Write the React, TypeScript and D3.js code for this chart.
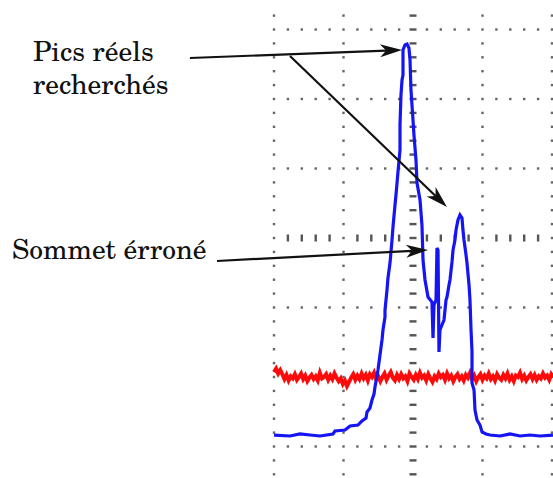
import React from "react";
import * as d3 from "d3";

// Oscilloscope trace data, in divisions x10 (time axis t, amplitude v)
const blueT = [
  -20.0, -17.7, -16.26, -14.82, -13.38, -11.51, -11.22, -9.78, -9.06, -7.91, -7.34, -6.76, -6.62, -6.19, -5.9,
  -5.61, -5.47, -5.18, -5.04, -4.75, -4.46, -4.32, -4.03, -4.03, -3.74, -3.6, -3.31, -3.02, -2.88, -2.59, -2.45,
  -2.16, -1.87, -1.87, -1.73, -1.58, -1.44, -1.44, -1.15, -0.86, -0.58, -0.43, -0.29, 0.0, 0.14, 0.43, 0.58,
  1.01, 1.29, 1.44, 1.73, 2.16, 2.73, 2.88, 3.02, 3.31, 3.45, 3.6, 3.74, 3.88, 4.17, 4.46, 4.75, 4.89, 5.18,
  5.32, 5.61, 5.76, 6.04, 6.19, 6.47, 6.76, 7.05, 7.19, 7.34, 7.63, 7.77, 8.06, 8.2, 8.35, 8.49, 8.49, 8.78,
  8.92, 9.21, 9.64, 9.93, 10.5, 11.08, 12.52, 13.96, 15.4, 16.83, 18.27, 20.14,
];
const blueV = [
  -28.35, -28.49, -28.2, -28.35, -28.49, -28.2, -27.77, -27.63, -27.05, -26.91, -26.33, -25.9, -25.04, -24.46,
  -23.31, -22.45, -21.44, -19.86, -18.99, -16.83, -14.68, -13.24, -11.37, -10.36, -7.48, -5.76, -3.6, -0.29,
  1.58, 4.75, 6.19, 9.5, 12.66, 16.26, 20.58, 22.73, 23.45, 27.05, 27.77, 27.91, 27.34, 25.61, 21.29, 16.98,
  14.82, 11.22, 7.91, 5.47, 1.87, -3.17, -6.04, -8.49, -9.21, -14.39, -9.64, -8.92, -1.44, -1.73, -16.4, -13.24,
  -12.52, -11.8, -8.92, -8.49, -6.76, -6.04, -3.45, -1.73, -0.29, 1.15, 2.59, 3.31, 2.88, 1.15, -0.29, -2.45,
  -3.6, -6.76, -8.92, -13.24, -16.4, -20.86, -21.87, -24.75, -26.19, -26.91, -27.91, -28.2, -28.35, -28.49,
  -28.2, -28.49, -28.35, -28.49, -28.35,
];
// red reference trace, sampled every 0.3 unit from t = -20
const redV = [
  -19.3, -18.8, -19.5, -19.0, -19.6, -20.3, -19.7, -20.5, -19.9, -20.2,
  -19.6, -20.4, -20.0, -19.5, -20.3, -19.8, -20.6, -20.1, -19.7, -20.3,
  -19.9, -20.5, -19.4, -20.2, -20.0, -19.6, -20.4, -19.8, -20.3, -19.5,
  -20.1, -20.6, -20.2, -21.0, -20.5, -21.3, -20.7, -20.1, -19.6, -20.4,
  -19.8, -20.3, -19.5, -20.2, -19.7, -20.5, -19.6, -20.0, -19.4, -20.3,
  -19.9, -20.6, -20.0, -19.5, -20.4, -19.8, -19.3, -20.1, -20.5, -19.7,
  -20.3, -19.6, -20.2, -19.9, -20.6, -19.5, -20.0, -20.4, -19.7, -20.3,
  -19.4, -20.1, -19.8, -20.5, -19.6, -20.2, -20.7, -19.9, -20.3, -19.5,
  -20.0, -19.7, -20.4, -19.5, -20.2, -19.8, -20.6, -20.0, -19.6, -20.3,
  -19.9, -20.5, -19.7, -20.1, -19.4, -20.3, -19.8, -20.6, -20.0, -19.6,
  -20.4, -19.8, -20.2, -19.5, -20.3, -19.9, -20.5, -19.6, -20.1, -20.4,
  -19.7, -20.2, -19.5, -20.4, -19.9, -20.6, -19.8, -20.0, -19.4, -20.3,
  -19.8, -20.5, -20.0, -19.6, -20.3, -19.7, -20.4, -19.9, -20.2, -19.5,
  -20.1, -19.8, -20.4, -19.6, -20.0,
];
const redStart = -20;
const redStep = 0.3;

// Grid: major divisions and minor dot spacing
const majorT = [-20, -10, 0, 10, 20];
const majorV = [30, 20, 10, 0, -10, -20, -30];
const minorStep = 2;

// Annotations (data units)
const annLabels = ["Pics réels", "recherchés", "Sommet érroné"];
const arrows = [
  { from: [-32.1, 25.9], to: [-1.58, 27.05] },
  { from: [-17.7, 26.19], to: [4.89, 4.46] },
  { from: [-28.2, -3.31], to: [2.16, -1.73] },
];

const W = 553;
const H = 478;

function arrowGeom(x1: number, y1: number, x2: number, y2: number) {
  const L = 22;
  const Wd = 6.5;
  const dx = x2 - x1;
  const dy = y2 - y1;
  const len = Math.hypot(dx, dy);
  const ux = dx / len;
  const uy = dy / len;
  const nx = -uy;
  const ny = ux;
  const bx = x2 - L * ux;
  const by = y2 - L * uy;
  const mx = x2 - 0.72 * L * ux;
  const my = y2 - 0.72 * L * uy;
  const head = `M${x2},${y2} L${bx + Wd * nx},${by + Wd * ny} L${mx},${my} L${bx - Wd * nx},${by - Wd * ny} Z`;
  return { head, lx: mx, ly: my };
}

const textStyle: React.CSSProperties = {
  fontFamily: '"TeX Gyre Schola", "Century Schoolbook L", "Liberation Serif", serif',
  fontSize: "27.5px",
};

export default function App() {
  const x = d3.scaleLinear().domain([-20, 20]).range([274, 552]);
  const y = d3.scaleLinear().domain([-30, 30]).range([446.5, 29.5]);

  const line = d3
    .line<[number, number]>()
    .x((d) => x(d[0]))
    .y((d) => y(d[1]));

  const bluePts: [number, number][] = blueT.map((t, i) => [t, blueV[i]]);
  const redPts: [number, number][] = redV.map((v, i) => [redStart + i * redStep, v]);

  const vMinorTicks = d3.range(-34, 33, minorStep);
  const tMinorTicks = d3.range(-20, 21, minorStep);

  const dots: React.ReactElement[] = [];
  majorT.forEach((t) => {
    vMinorTicks.forEach((v) => {
      if (t === 0) {
        dots.push(<rect key={`c${t}_${v}`} x={x(t) - 3.5} y={y(v) - 1.2} width={7} height={2.4} fill="#555" />);
      } else {
        dots.push(<rect key={`d${t}_${v}`} x={x(t) - 1.2} y={y(v) - 1.2} width={2.4} height={2.4} fill="#666" />);
      }
    });
  });
  majorV.forEach((v) => {
    tMinorTicks.forEach((t) => {
      if (majorT.includes(t)) return;
      if (v === 0) {
        dots.push(<rect key={`h${t}_${v}`} x={x(t) - 1.2} y={y(v) - 3.5} width={2.4} height={7} fill="#555" />);
      } else {
        dots.push(<rect key={`e${t}_${v}`} x={x(t) - 1.2} y={y(v) - 1.2} width={2.4} height={2.4} fill="#666" />);
      }
    });
  });

  return (
    <svg width={W} height={H} style={{ position: "absolute", left: 0, top: 0, background: "#fff" }}>
      <rect width={W} height={H} fill="#fff" />
      <g>{dots}</g>
      <path d={line(redPts) || ""} fill="none" stroke="#ff0a0a" strokeWidth={4} strokeLinejoin="miter" />
      <path d={line(bluePts) || ""} fill="none" stroke="#1414f5" strokeWidth={3.2} strokeLinejoin="miter" />
      {arrows.map((a, i) => {
        const x1 = x(a.from[0]);
        const y1 = y(a.from[1]);
        const x2 = x(a.to[0]);
        const y2 = y(a.to[1]);
        const g = arrowGeom(x1, y1, x2, y2);
        return (
          <g key={i}>
            <line x1={x1} y1={y1} x2={g.lx} y2={g.ly} stroke="#111" strokeWidth={2.2} />
            <path d={g.head} fill="#111" />
          </g>
        );
      })}
      <text x={33} y={61} fill="#111" style={textStyle}>
        <tspan x={33} y={61}>{annLabels[0]}</tspan>
        <tspan x={33} y={94}>{annLabels[1]}</tspan>
      </text>
      <text x={12} y={259} fill="#111" style={textStyle}>{annLabels[2]}</text>
    </svg>
  );
}
